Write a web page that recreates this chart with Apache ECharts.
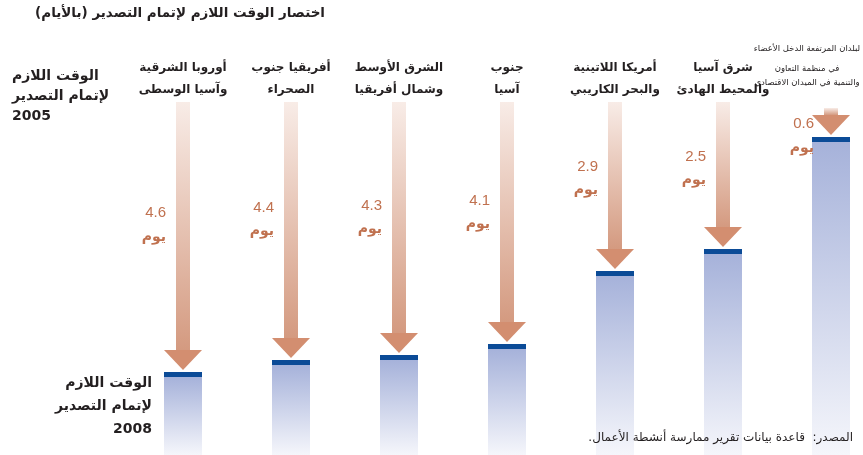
<!DOCTYPE html>
<html>
<head>
<meta charset="utf-8">
<script src="https://cdn.jsdelivr.net/npm/echarts@6/dist/echarts.min.js"></script>
<style>
  html, body { margin: 0; padding: 0; background: #fff; }
  #main { width: 863px; height: 455px; }
</style>
</head>
<body>
<div id="main"></div>
<script>
// المناطق (بترتيب المحور من اليسار)
var regions = [
  'أوروبا الشرقية\nوآسيا الوسطى',
  'أفريقيا جنوب\nالصحراء',
  'الشرق الأوسط\nوشمال أفريقيا',
  'جنوب\nآسيا',
  'أمريكا اللاتينية\nوالبحر الكاريبي',
  'شرق آسيا\nوالمحيط الهادئ',
  'لبلدان المرتفعة الدخل الأعضاء\nفي منظمة التعاون\nوالتنمية في الميدان الاقتصادي'
];
// الانخفاض بالأيام
var cut = [4.6, 4.4, 4.3, 4.1, 2.9, 2.5, 0.6];
// مستوى 2005 و 2008 (وحدات تخطيطية)
var level2005 = [35.3, 35.3, 35.3, 35.3, 35.3, 35.3, 34.7];
var level2008 = [8.3, 9.5, 10.0, 11.1, 18.4, 20.6, 31.8];

var arabic = "'DejaVu Sans', sans-serif";
var latin = "'Liberation Sans', Arial, sans-serif";

function rtl(s) {
  return s.split('\n').map(function (l) { return '\u202B' + l + '\u202C'; }).join('\n');
}

var chart = echarts.init(document.getElementById('main'));

var data = [];
for (var i = 0; i < regions.length; i++) {
  data.push([i, level2005[i], level2008[i], cut[i]]);
}

function renderItem(params, api) {
  var i = api.value(0);
  var x = api.coord([i, 0])[0];
  var yTop = api.coord([i, api.value(1)])[1];
  var yCap = api.coord([i, api.value(2)])[1];
  var yBase = api.coord([i, 0])[1];
  var shaftW = 14, headW = 38, headH = 20, barW = 38, capH = 5;
  var tip = yCap - 2;
  var len = tip - yTop;
  var headTop = tip - headH;
  // السهم القصير: الرقم بجانب رأس السهم
  var labY = len < 60 ? yCap - 1 : yTop + 0.46 * len;

  return {
    type: 'group',
    children: [
      {
        type: 'rect',
        shape: { x: x - barW / 2, y: yCap + capH, width: barW, height: yBase - yCap - capH },
        style: {
          fill: new echarts.graphic.LinearGradient(0, 0, 0, 1, [
            { offset: 0, color: '#a6b2da' },
            { offset: 1, color: '#f5f6fb' }
          ])
        }
      },
      {
        type: 'rect',
        shape: { x: x - barW / 2, y: yCap, width: barW, height: capH },
        style: { fill: '#0b4b97' }
      },
      {
        type: 'rect',
        shape: { x: x - shaftW / 2, y: yTop, width: shaftW, height: Math.max(headTop - yTop, 0) },
        style: {
          fill: new echarts.graphic.LinearGradient(0, 0, 0, 1, [
            { offset: 0, color: '#f8ece7' },
            { offset: 1, color: '#d49a80' }
          ])
        }
      },
      {
        type: 'polygon',
        shape: { points: [[x - headW / 2, headTop], [x + headW / 2, headTop], [x, tip]] },
        style: { fill: '#d38e70' }
      },
      {
        type: 'text',
        style: {
          text: api.value(3).toFixed(1),
          x: x - 17, y: labY - 12,
          align: 'right', verticalAlign: 'middle',
          fill: '#c0714f', font: '15px ' + latin
        }
      },
      {
        type: 'text',
        style: {
          text: rtl('يوم'),
          x: x - 17, y: labY + 12,
          align: 'right', verticalAlign: 'middle',
          fill: '#c0714f', font: 'bold 14px ' + arabic
        }
      }
    ]
  };
}

var option = {
  animation: false,
  grid: { left: 129, width: 756, top: 102, bottom: 0, outerBoundsMode: 'none' },
  xAxis: {
    type: 'category',
    position: 'top',
    data: regions,
    axisLine: { show: false },
    axisTick: { show: false },
    axisLabel: {
      interval: 0,
      margin: 1,
      hideOverlap: false,
      color: '#231f20',
      fontFamily: arabic,
      fontWeight: 'bold',
      fontSize: 12,
      lineHeight: 22,
      formatter: function (v, idx) {
        if (idx === regions.length - 1) {
          var ls = v.split('\n');
          return '{a|' + rtl(ls[0]) + '}\n{b|' + rtl(ls[1]) + '}\n{b|' + rtl(ls[2]) + '}\n{c| }';
        }
        return rtl(v);
      },
      rich: {
        a: { fontSize: 8.5, lineHeight: 27, fontWeight: 'normal', fontFamily: arabic, color: '#231f20', padding: [0, 48, 0, 0] },
        b: { fontSize: 8.5, lineHeight: 14, fontWeight: 'normal', fontFamily: arabic, color: '#231f20', padding: [0, 48, 0, 0] },
        c: { fontSize: 8.5, lineHeight: 11, fontFamily: arabic, padding: [0, 48, 0, 0] }
      }
    }
  },
  yAxis: { type: 'value', min: 0, max: 35.3, show: false },
  series: [{
    type: 'custom',
    renderItem: renderItem,
    data: data,
    clip: false
  }],
  graphic: [
    {
      type: 'text', x: 325, y: 6, z: 100,
      style: { text: rtl('اختصار الوقت اللازم لإتمام التصدير (بالأيام)'), align: 'right', fill: '#231f20', font: 'bold 13.5px ' + arabic }
    },
    {
      type: 'text', x: 12, y: 66, z: 100,
      style: { text: rtl('الوقت اللازم\nلإتمام التصدير\n2005'), align: 'left', lineHeight: 20, fill: '#231f20', font: 'bold 14px ' + arabic }
    },
    {
      type: 'text', x: 152, y: 372, z: 100,
      style: { text: rtl('الوقت اللازم\nلإتمام التصدير\n2008'), align: 'right', lineHeight: 23, fill: '#231f20', font: 'bold 14px ' + arabic }
    },
    {
      type: 'text', x: 853, y: 432, z: 100,
      style: { text: rtl('المصدر:  قاعدة بيانات تقرير ممارسة أنشطة الأعمال.'), align: 'right', fill: '#231f20', font: '12px ' + arabic }
    }
  ]
};

chart.setOption(option);
</script>
</body>
</html>
